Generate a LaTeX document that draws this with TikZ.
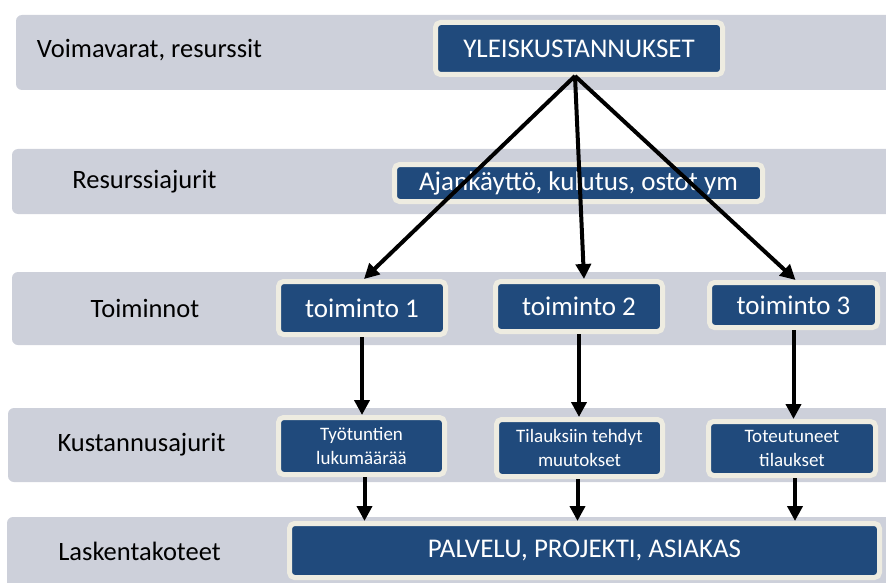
\documentclass[tikz,border=0pt]{standalone}
\usepackage{fontspec}
\setmainfont{Carlito}
\usetikzlibrary{arrows.meta}
\definecolor{bandgray}{HTML}{CDD0DA}
\definecolor{navy}{HTML}{204A7C}
\definecolor{cream}{HTML}{EEECE1}
\tikzset{
  band/.style={fill=bandgray, rounded corners=6pt},
  bandlabel/.style={font=\fontsize{26.5}{31}\selectfont, text=black, inner sep=0pt},
  box/.style={fill=navy, draw=cream, line width=5pt, rounded corners=5pt,
    text=white, inner sep=0pt, font=\fontsize{27}{31}\selectfont, align=center},
  smallbox/.style={box, font=\fontsize{19}{24}\selectfont},
  flow/.style={line width=4pt, -{Triangle[length=15pt,width=15pt]}}
}
\begin{document}
\begin{tikzpicture}[x=1pt, y=-1pt]
\useasboundingbox (0,0) rectangle (886,583);
\clip (0,0) rectangle (886,583);

% level bands
\fill[band] (16,15) rectangle (900,90);
\fill[band] (12,149) rectangle (900,214);
\fill[band] (12,272) rectangle (900,345);
\fill[band] (8,408) rectangle (900,482);
\fill[band] (7,517) rectangle (900,610);

% band captions
\node[bandlabel] (l1) at (149.5,50) {Voimavarat, resurssit};
\node[bandlabel] (l2) at (144.5,182) {Resurssiajurit};
\node[bandlabel] (l3) at (145,308) {Toiminnot};
\node[bandlabel] (l4) at (141.5,445) {Kustannusajurit};
\node[bandlabel] (l5) at (139.5,551) {Laskentakoteet};

% boxes
\node[box, minimum width=287pt, minimum height=52pt] (yk) at (579,48.5) {YLEISKUSTANNUKSET};
\node[box, minimum width=368pt, minimum height=37pt] (aj) at (578.5,183) {Ajankäyttö, kulutus, ostot ym};
\node[box, minimum width=167pt, minimum height=53pt] (t1) at (362,308) {toiminto 1};
\node[box, minimum width=167pt, minimum height=50pt] (t2) at (579,306.5) {toiminto 2};
\node[box, minimum width=168pt, minimum height=45pt] (t3) at (793.5,305) {toiminto 3};
\node[smallbox, minimum width=166pt, minimum height=57pt] (k1) at (361.5,446) {Työtuntien\\lukumäärää};
\node[smallbox, minimum width=166pt, minimum height=57pt] (k2) at (579.5,448) {Tilauksiin tehdyt\\muutokset};
\node[smallbox, minimum width=167pt, minimum height=54pt] (k3) at (792,448.5) {Toteutuneet\\tilaukset};
\node[box, minimum width=590pt, minimum height=54pt] (pa) at (584.5,550.5) {PALVELU, PROJEKTI, ASIAKAS};

% fan-out from the overhead costs
\coordinate (apex) at (575,76);
\draw[flow] (apex) -- ([xshift=2pt]t1.north);
\draw[flow] (apex) -- ([xshift=5pt]t2.north);
\draw[flow] (apex) -- ([xshift=2pt]t3.north);

% activities to cost drivers
\draw[flow] (t1.south) -- (t1.south |- k1.north);
\draw[flow] (t2.south) -- (t2.south |- k2.north);
\draw[flow] (t3.south) -- (t3.south |- k3.north);

% cost drivers to cost objects
\draw[flow] ([xshift=3pt]k1.south) -- ([xshift=3pt]k1.south |- pa.north);
\draw[flow] ([xshift=-2pt]k2.south) -- ([xshift=-2pt]k2.south |- pa.north);
\draw[flow] ([xshift=3pt]k3.south) -- ([xshift=3pt]k3.south |- pa.north);
\end{tikzpicture}
\end{document}
